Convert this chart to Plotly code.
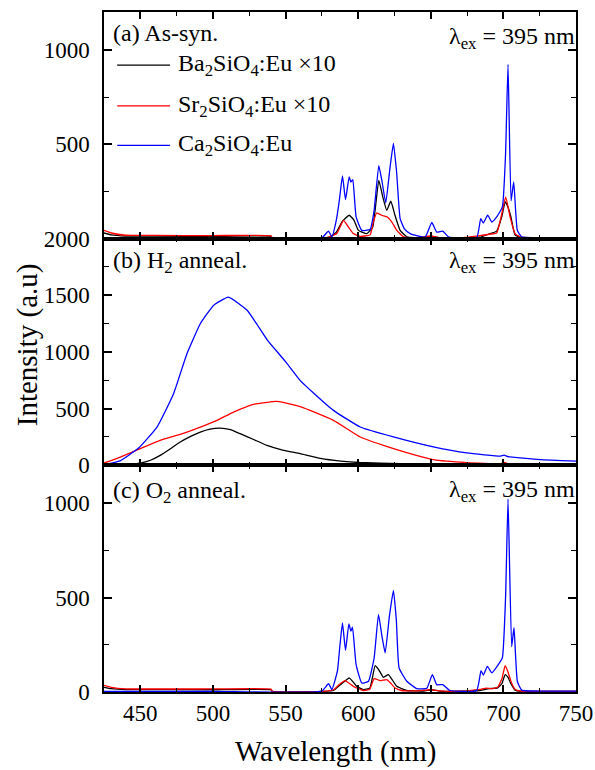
import plotly.graph_objects as go
from plotly.subplots import make_subplots

# ---------------- (a) as-synthesised ----------------
a_ba_wl = [425, 430, 440, 460, 500, 540, 541, 570, 580, 585, 589, 593.8, 597, 600.2, 606, 610,
           614.2, 617, 619.7, 622.5, 625.5, 628.9, 633.5, 645, 651, 656, 670, 684, 690, 695.4,
           699, 701.2, 703, 705.1, 708, 712, 730, 750]
a_ba_int = [30, 20, 14, 13, 12, 12, 2, 3, 6, 35, 90, 124, 100, 44, 27, 60,
            309, 220, 150, 198, 120, 44, 10, 5, 12, 5, 4, 8, 24, 40,
            120, 194, 170, 118, 20, 5, 3, 3]

a_sr_wl = [425, 430, 440, 460, 500, 540, 541, 570, 578, 585.3, 589.9, 593.3, 596.7, 601.3, 608.2,
           610.5, 612.8, 616.3, 620.1, 623.2, 626.6, 631.2, 640, 650, 656, 670, 685, 690.8, 695.4,
           698.9, 701.6, 704.6, 708, 712, 730, 750]
a_sr_int = [44, 30, 18, 17, 16, 15, 3, 3, 5, 27, 97, 62, 27, 12, 20,
            90, 136, 124, 115, 88, 44, 10, 6, 14, 6, 4, 17, 24, 30,
            132, 221, 115, 27, 8, 4, 4]

a_ca_wl = [425, 500, 575, 579.6, 581.9, 585, 587, 589.2, 591.3, 593.8, 595, 596.3, 598.6, 602.5,
           608.2, 611, 614.2, 616.5, 619.0, 622, 624.3, 626.5, 628.9, 632, 635.8, 646.1, 650.7,
           654.1, 658.3, 662.1, 681.6, 684.4, 686.2, 689.2, 692.0, 695.4, 699.3, 701.5, 703.2,
           705.3, 707.1, 709.6, 712.6, 730, 750]
a_ca_int = [3, 3, 5, 40, 10, 100, 200, 332, 207, 327, 300, 313, 115, 44,
            48, 150, 387, 300, 189, 380, 504, 350, 106, 50, 27, 8, 86,
            35, 40, 10, 5, 106, 83, 124, 88, 115, 168, 450, 923,
            200, 300, 44, 10, 5, 5]

# ---------------- (b) H2 annealed ----------------
b_ba_wl = [425, 440, 450, 457, 463.7, 470, 477.5, 485, 491.3, 498, 505, 512, 518.8, 528, 537.2,
           548, 560, 574, 588, 601, 629, 660, 700, 750]
b_ba_int = [2, 8, 20, 45, 88, 140, 206, 258, 294, 320, 329, 315, 279, 228, 176,
            135, 103, 62, 38, 25, 15, 8, 5, 3]

b_sr_wl = [425, 436.2, 450, 463.7, 477.5, 491.3, 502.8, 514.2, 527.9, 544, 560.1, 583, 601.4,
           617.4, 635.8, 651.8, 674.8, 697.7, 700.5, 703, 710, 730, 750]
b_sr_int = [20, 73, 147, 220, 273, 338, 397, 470, 538, 564, 518, 397, 250,
            176, 103, 50, 24, 15, 25, 15, 6, 4, 3]

b_ca_wl = [425, 436, 448.6, 461.5, 472.9, 482.1, 491.3, 500.4, 510.7, 523.4, 530, 537.2, 550,
           560, 570, 583, 601.4, 624.3, 651.8, 674.8, 698, 700.5, 703, 725.2, 750]
b_ca_int = [6, 40, 150, 338, 632, 985, 1249, 1411, 1484, 1370, 1250, 1110, 915,
            750, 630, 485, 338, 250, 162, 109, 82, 90, 78, 50, 38]

# ---------------- (c) O2 annealed ----------------
c_ba_wl = [425, 430, 440, 500, 540, 541, 575, 583, 588, 594, 599, 603.6, 608, 611.7, 614, 617.4,
           620.8, 623, 626.6, 633.5, 645, 651, 656, 670, 684, 690, 696, 699, 701.2, 703, 705.5,
           708, 712, 730, 750]
c_ba_int = [25, 18, 13, 12, 12, 2, 3, 8, 40, 74, 30, 13, 20, 140, 120, 78,
            92, 70, 30, 8, 5, 12, 5, 4, 8, 18, 22, 45, 92, 80, 40,
            10, 4, 3, 3]

c_sr_wl = [425, 430, 440, 500, 540, 541, 575, 583, 587, 591, 596.7, 603.6, 608, 611, 615.1, 619.7,
           622, 625.4, 630, 640, 650, 656, 670, 685, 688, 692, 696, 699, 701.2, 703, 705.5, 708,
           712, 730, 750]
c_sr_int = [35, 25, 17, 16, 15, 3, 3, 12, 40, 60, 30, 8, 15, 71, 60, 66,
            50, 21, 8, 6, 12, 6, 4, 15, 21, 17, 25, 70, 140, 110, 50, 15,
            5, 3, 3]

c_ca_wl = [425, 500, 575, 579.6, 581.9, 585.7, 587.5, 589.2, 591.3, 593.6, 595, 596.1, 598.6,
           602.5, 607.1, 611, 614, 616.3, 618.6, 621.5, 624.3, 626.3, 628.2, 633.5, 640.4, 647.3,
           651.1, 654.1, 658.3, 663.3, 681.6, 684.6, 686.2, 689, 692, 696.5, 699.3, 701.5, 703.2,
           705.7, 707.3, 709.6, 712.6, 730, 750]
c_ca_int = [3, 3, 5, 44, 13, 110, 250, 366, 220, 361, 322, 343, 145,
            48, 57, 180, 411, 300, 207, 400, 538, 380, 127, 57, 18, 20,
            92, 39, 39, 8, 8, 113, 89, 136, 101, 145, 181, 500, 1021,
            240, 340, 57, 10, 5, 5]

series_names = ["Ba<sub>2</sub>SiO<sub>4</sub>:Eu ×10",
                "Sr<sub>2</sub>SiO<sub>4</sub>:Eu ×10",
                "Ca<sub>2</sub>SiO<sub>4</sub>:Eu"]
series_colors = ["#000000", "#ff0000", "#0000ff"]

panel_labels = ["(a) As-syn.", "(b) H<sub>2</sub> anneal.", "(c) O<sub>2</sub> anneal."]
excitation_label = "λ<sub>ex</sub> = 395 nm"
y_ranges = [[0, 1200], [0, 2000], [0, 1200]]
y_tickvals = [[0, 500, 1000], [0, 500, 1000, 1500, 2000], [0, 500, 1000]]
y_ticktext = [["", "500", "1000"], ["0", "500", "1000", "1500", "2000"], ["0", "500", "1000"]]
x_tickvals = [450, 500, 550, 600, 650, 700, 750]

panels = [
    [(a_ba_wl, a_ba_int), (a_sr_wl, a_sr_int), (a_ca_wl, a_ca_int)],
    [(b_ba_wl, b_ba_int), (b_sr_wl, b_sr_int), (b_ca_wl, b_ca_int)],
    [(c_ba_wl, c_ba_int), (c_sr_wl, c_sr_int), (c_ca_wl, c_ca_int)],
]

FONT = "Liberation Serif"

fig = make_subplots(rows=3, cols=1, shared_xaxes=True, vertical_spacing=0)

for r, panel in enumerate(panels, start=1):
    for (wl, inten), name, col in zip(panel, series_names, series_colors):
        fig.add_trace(go.Scatter(x=wl, y=inten, mode="lines", name=name, showlegend=False,
                                 line=dict(color=col, width=1.3, shape="spline", smoothing=0.4)),
                      row=r, col=1)

for r in range(1, 4):
    fig.update_xaxes(range=[425, 750], tickvals=x_tickvals, ticks="inside", ticklen=7,
                     tickwidth=1.5, tickcolor="black", showline=True, linewidth=1.5,
                     linecolor="black", mirror="ticks", showgrid=False, zeroline=False,
                     automargin=False,
                     minor=dict(ticks="inside", ticklen=4, tickwidth=1.2, tickcolor="black",
                                dtick=25, tick0=425, showgrid=False),
                     showticklabels=(r == 3), tickfont=dict(family=FONT, size=23, color="black"),
                     row=r, col=1)
    fig.update_yaxes(range=y_ranges[r - 1], tickvals=y_tickvals[r - 1], ticktext=y_ticktext[r - 1],
                     ticks="inside", ticklen=8, tickwidth=1.5, tickcolor="black",
                     showline=True, linewidth=1.5, linecolor="black", mirror="ticks",
                     showgrid=False, zeroline=False, ticklabelstandoff=8, automargin=False,
                     minor=dict(ticks="inside", ticklen=5, tickwidth=1.2, tickcolor="black",
                                dtick=250, tick0=0, showgrid=False),
                     tickfont=dict(family=FONT, size=23, color="black"),
                     row=r, col=1)

annotations = []
label_y = [0.969, 0.632, 0.294]
lambda_y = [0.962, 0.632, 0.296]
for i in range(3):
    annotations.append(dict(text=panel_labels[i], x=0.015, y=label_y[i], xref="paper", yref="paper",
                            xanchor="left", yanchor="middle", showarrow=False,
                            font=dict(family=FONT, size=24, color="black")))
    annotations.append(dict(text=excitation_label, x=1.002, y=lambda_y[i], xref="paper",
                            yref="paper", xanchor="right", yanchor="middle", showarrow=False,
                            font=dict(family=FONT, size=24, color="black")))

# legend in panel (a)
legend_y = [0.922, 0.862, 0.804]
shapes = []
for name, col, ly in zip(series_names, series_colors, legend_y):
    shapes.append(dict(type="line", xref="paper", yref="paper", x0=0.028, x1=0.140, y0=ly, y1=ly,
                       line=dict(color=col, width=1.3)))
    annotations.append(dict(text=name, x=0.152, y=ly, xref="paper", yref="paper", xanchor="left",
                            yanchor="middle", showarrow=False,
                            font=dict(family=FONT, size=24, color="black")))

annotations.append(dict(text="Intensity (a.u)", x=-0.163, y=0.51, xref="paper", yref="paper",
                        xanchor="center", yanchor="middle", textangle=-90, showarrow=False,
                        font=dict(family=FONT, size=29, color="black")))
annotations.append(dict(text="Wavelength (nm)", x=0.49, y=-0.088, xref="paper", yref="paper",
                        xanchor="center", yanchor="middle", showarrow=False,
                        font=dict(family=FONT, size=29, color="black")))

fig.update_layout(width=595, height=770, margin=dict(l=104, r=19, t=12, b=78, autoexpand=False),
                  paper_bgcolor="white", plot_bgcolor="white", showlegend=False,
                  annotations=annotations, shapes=shapes,
                  font=dict(family=FONT, color="black"))

fig.write_html("out.html")
